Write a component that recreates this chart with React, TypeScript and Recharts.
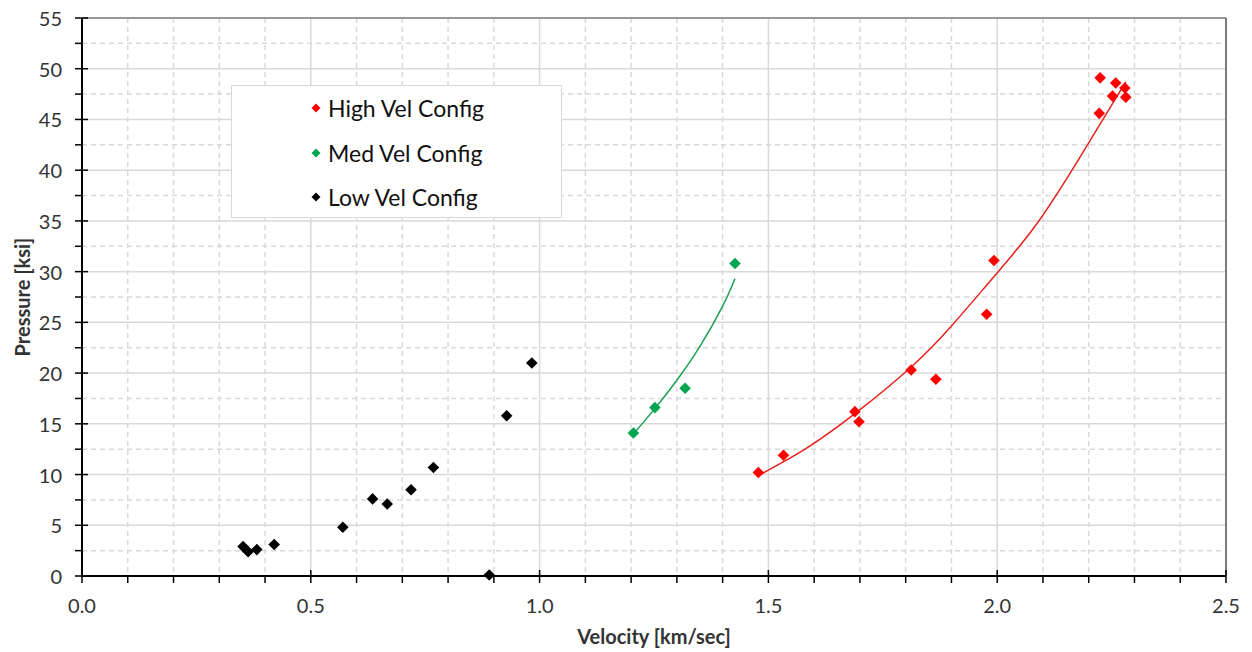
import React from 'react';
import {
  ComposedChart,
  Scatter,
  Line,
  XAxis,
  YAxis,
  CartesianGrid,
  ReferenceLine,
  Legend,
} from 'recharts';

// measured points, velocity [km/sec] vs pressure [ksi]
const HIGH_VEL = [
  { v: 1.478, p: 10.2 },
  { v: 1.533, p: 11.9 },
  { v: 1.689, p: 16.2 },
  { v: 1.698, p: 15.2 },
  { v: 1.812, p: 20.3 },
  { v: 1.866, p: 19.4 },
  { v: 1.977, p: 25.8 },
  { v: 1.993, p: 31.1 },
  { v: 2.225, p: 49.1 },
  { v: 2.223, p: 45.6 },
  { v: 2.259, p: 48.6 },
  { v: 2.252, p: 47.3 },
  { v: 2.279, p: 48.1 },
  { v: 2.281, p: 47.2 },
];

const MED_VEL = [
  { v: 1.205, p: 14.1 },
  { v: 1.252, p: 16.6 },
  { v: 1.318, p: 18.5 },
  { v: 1.427, p: 30.8 },
];

const LOW_VEL = [
  { v: 0.352, p: 2.9 },
  { v: 0.363, p: 2.4 },
  { v: 0.382, p: 2.6 },
  { v: 0.42, p: 3.1 },
  { v: 0.57, p: 4.8 },
  { v: 0.635, p: 7.6 },
  { v: 0.667, p: 7.1 },
  { v: 0.719, p: 8.5 },
  { v: 0.768, p: 10.7 },
  { v: 0.89, p: 0.1 },
  { v: 0.928, p: 15.8 },
  { v: 0.983, p: 21.0 },
];

// trendlines
const HIGH_FIT = [
  { v: 1.478, p: 9.9 },
  { v: 1.58, p: 12.5 },
  { v: 1.689, p: 16.0 },
  { v: 1.812, p: 20.6 },
  { v: 1.903, p: 24.8 },
  { v: 1.989, p: 29.3 },
  { v: 2.083, p: 34.5 },
  { v: 2.177, p: 41.0 },
  { v: 2.281, p: 48.7 },
];

const MED_FIT = [
  { v: 1.205, p: 14.0 },
  { v: 1.25, p: 16.4 },
  { v: 1.3, p: 19.3 },
  { v: 1.35, p: 22.6 },
  { v: 1.4, p: 26.6 },
  { v: 1.427, p: 29.3 },
];

const SERIES_NAMES = ['High Vel Config', 'Med Vel Config', 'Low Vel Config'];

const X_MAJOR = [0, 0.5, 1, 1.5, 2, 2.5];
const X_MINOR = [
  0.1, 0.2, 0.3, 0.4, 0.6, 0.7, 0.8, 0.9, 1.1, 1.2, 1.3, 1.4, 1.6, 1.7, 1.8, 1.9, 2.1, 2.2,
  2.3, 2.4,
];
const Y_MAJOR = [0, 5, 10, 15, 20, 25, 30, 35, 40, 45, 50, 55];
const Y_MINOR = [2.5, 7.5, 12.5, 17.5, 22.5, 27.5, 32.5, 37.5, 42.5, 47.5, 52.5];

const FONT = 'Lato, "Open Sans", sans-serif';
const TEXT = '#333333';
const GRID = '#d9d9d9';

function Diamond({ cx, cy, fill }: any) {
  if (cx == null || cy == null) return null;
  const r = 5.8;
  return (
    <polygon
      points={`${cx},${cy - r} ${cx + r},${cy} ${cx},${cy + r} ${cx - r},${cy}`}
      fill={fill}
    />
  );
}

function XTick({ x, y, payload }: any) {
  const major = X_MAJOR.includes(payload.value);
  return (
    <g>
      <line x1={x} x2={x} y1={major ? y - 6 : y} y2={y + 7} stroke="#000" strokeWidth={1.5} />
      {major && (
        <text x={x} y={y + 29} textAnchor="middle" dominantBaseline="central" fill={TEXT} fontSize={20} fontFamily={FONT}>
          {payload.value.toFixed(1)}
        </text>
      )}
    </g>
  );
}

function YTick({ x, y, payload }: any) {
  const major = Y_MAJOR.includes(payload.value);
  return (
    <g>
      <line x1={x - 7} x2={major ? x + 6 : x} y1={y} y2={y} stroke="#000" strokeWidth={1.5} />
      {major && (
        <text x={x - 20} y={y} textAnchor="end" dominantBaseline="central" fill={TEXT} fontSize={20} fontFamily={FONT}>
          {payload.value}
        </text>
      )}
    </g>
  );
}

function LegendBox({ payload }: any) {
  const items = SERIES_NAMES.map((n) => (payload || []).find((p: any) => p.value === n)).filter(Boolean);
  return (
    <div
      style={{
        width: 331,
        height: 133,
        boxSizing: 'border-box',
        background: '#fff',
        border: '1.5px solid #d9d9d9',
        padding: '0 0 0 77px',
        fontFamily: FONT,
        fontSize: 23,
        color: '#111',
      }}
    >
      {items.map((item: any) => (
        <div key={item.value} style={{ display: 'flex', alignItems: 'center', height: 44.5 }}>
          <svg width={14} height={14} style={{ marginRight: 5 }}>
            <polygon points="7,2.5 11.5,7 7,11.5 2.5,7" fill={item.color} />
          </svg>
          {item.value}
        </div>
      ))}
    </div>
  );
}

export default function App() {
  return (
    <div style={{ position: 'absolute', left: 0, top: 0, background: '#fff' }}>
      <ComposedChart width={1252} height={652} margin={{ top: 18, right: 26, bottom: 26, left: 22 }}>
        <CartesianGrid
          stroke={GRID}
          strokeWidth={1.5}
          strokeDasharray="5 4"
          verticalValues={X_MINOR}
          horizontalValues={Y_MINOR}
        />
        <CartesianGrid stroke={GRID} strokeWidth={1.5} verticalValues={X_MAJOR} horizontalValues={Y_MAJOR} />
        <XAxis
          type="number"
          dataKey="v"
          domain={[0, 2.5]}
          ticks={[...X_MAJOR, ...X_MINOR].sort((a, b) => a - b)}
          interval={0}
          height={50}
          tickSize={0}
          tickMargin={0}
          tick={<XTick />}
          axisLine={{ stroke: '#000', strokeWidth: 2 }}
          label={({ viewBox }: any) => (
            <text
              x={viewBox.x + viewBox.width / 2}
              y={viewBox.y + 60}
              textAnchor="middle"
              dominantBaseline="central"
              fontFamily={FONT}
              fontWeight={700}
              fontSize={20}
              fill={TEXT}
            >
              Velocity [km/sec]
            </text>
          )}
        />
        <YAxis
          type="number"
          dataKey="p"
          domain={[0, 55]}
          ticks={[...Y_MAJOR, ...Y_MINOR].sort((a, b) => a - b)}
          interval={0}
          width={60}
          tickSize={0}
          tickMargin={0}
          tick={<YTick />}
          axisLine={{ stroke: '#000', strokeWidth: 2 }}
          label={({ viewBox }: any) => (
            <text
              x={viewBox.x}
              y={viewBox.y + viewBox.height / 2}
              textAnchor="middle"
              dominantBaseline="central"
              transform={`rotate(-90, ${viewBox.x}, ${viewBox.y + viewBox.height / 2})`}
              fontFamily={FONT}
              fontWeight={700}
              fontSize={20}
              fill={TEXT}
            >
              Pressure [ksi]
            </text>
          )}
        />
        <ReferenceLine y={55} stroke="#808080" strokeWidth={1.5} />
        <ReferenceLine x={2.5} stroke="#595959" strokeWidth={1.5} />
        <Line data={HIGH_FIT} dataKey="p" type="natural" stroke="#e8211c" strokeWidth={1.5} dot={false} legendType="none" isAnimationActive={false} />
        <Line data={MED_FIT} dataKey="p" type="natural" stroke="#1aa052" strokeWidth={1.5} dot={false} legendType="none" isAnimationActive={false} />
        <Scatter name="High Vel Config" data={HIGH_VEL} dataKey="p" fill="#ff0000" shape={<Diamond />} isAnimationActive={false} />
        <Scatter name="Med Vel Config" data={MED_VEL} dataKey="p" fill="#00a550" shape={<Diamond />} isAnimationActive={false} />
        <Scatter name="Low Vel Config" data={LOW_VEL} dataKey="p" fill="#000000" shape={<Diamond />} isAnimationActive={false} />
        <Legend
          layout="vertical"
          verticalAlign="middle"
          align="center"
          content={<LegendBox />}
          wrapperStyle={{ left: 231, top: 85, width: 331, height: 133 }}
        />
      </ComposedChart>
    </div>
  );
}
